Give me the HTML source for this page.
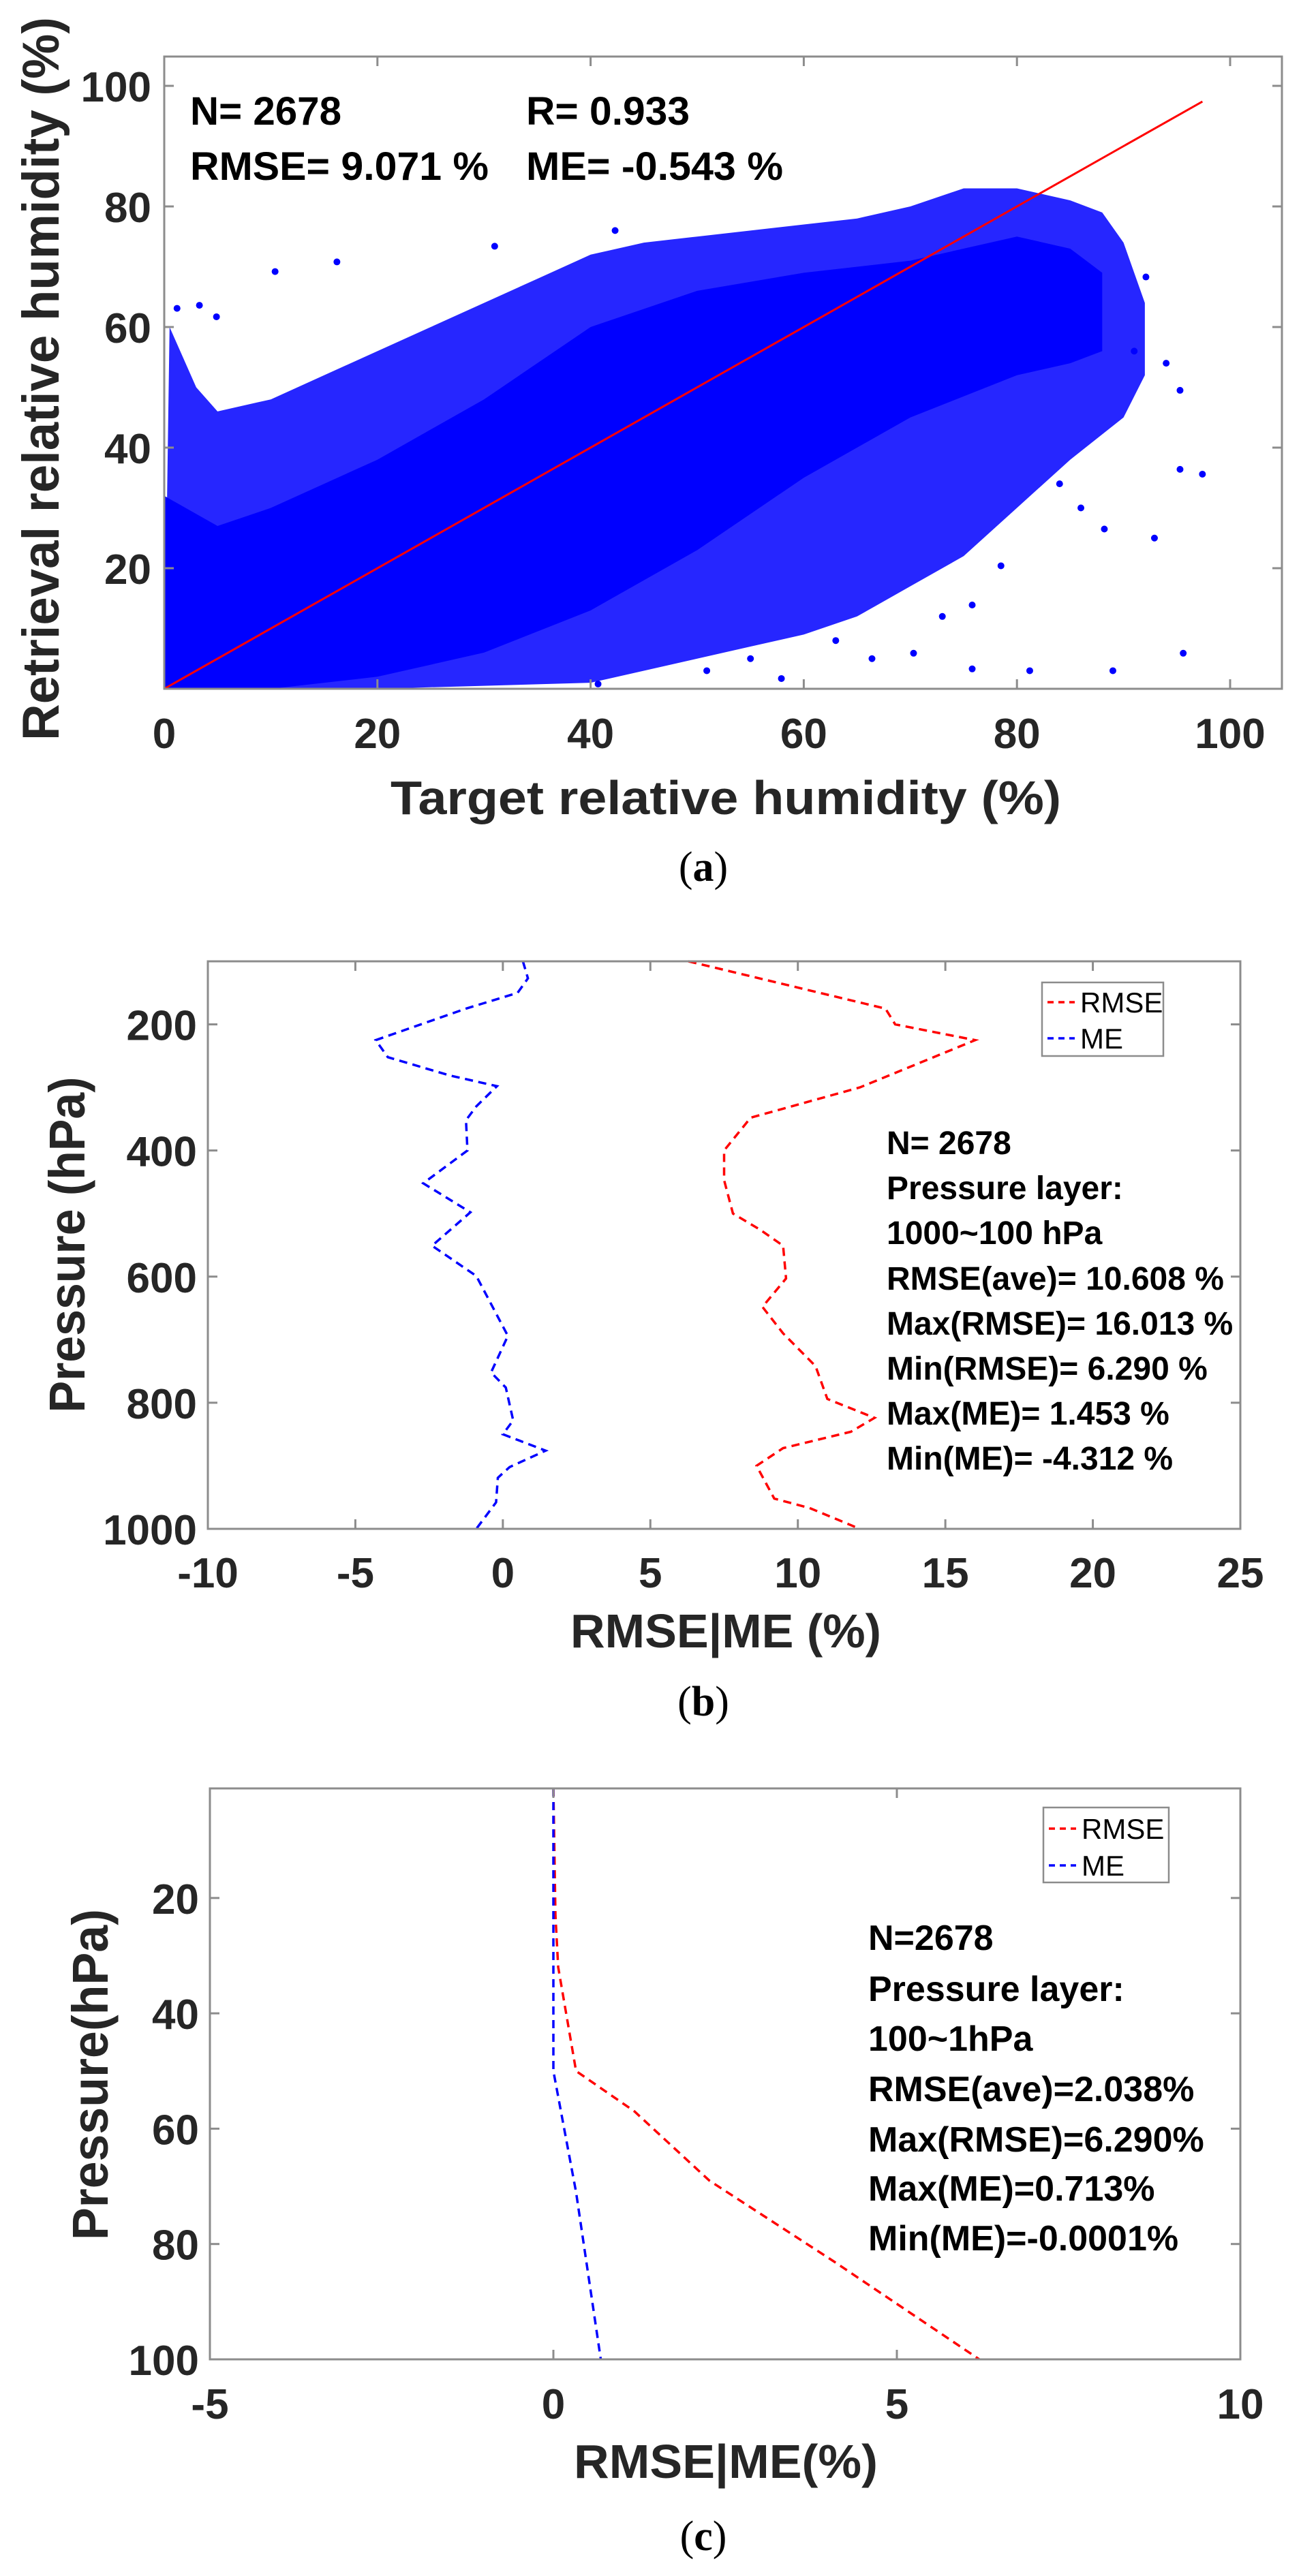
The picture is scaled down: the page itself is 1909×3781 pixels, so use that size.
<!DOCTYPE html>
<html><head><meta charset="utf-8"><style>
html,body{margin:0;padding:0;background:#fff;}
svg{display:block;font-family:"Liberation Sans",Arial,sans-serif;}
.tk{font-size:62px;font-weight:bold;fill:#262626;}
.ann{font-weight:bold;fill:#000;}
.cap{font-family:"Liberation Serif",serif;font-size:62px;fill:#000;}
</style></head><body>
<svg id="fig" width="1909" height="3781" viewBox="0 0 1909 3781" xmlns="http://www.w3.org/2000/svg">
<g id="ga"></g>
<g id="gb"></g>
<g id="gc"></g>
</svg>
<script>
// ---------- Panel (a) data ----------
const aXTicks = [0, 20, 40, 60, 80, 100];
const aYTicks = [20, 40, 60, 80, 100];
const aOuterUpperX = [0, 0.5, 3, 5, 10, 15, 20, 25, 30, 35, 40, 45, 50, 55, 60, 65, 70, 75, 80, 85, 88, 90, 92];
const aOuterUpperY = [0, 60, 50, 46, 48, 52, 56, 60, 64, 68, 72, 74, 75, 76, 77, 78, 80, 83, 83, 81, 79, 74, 64];
const aOuterLowerX = [92, 90, 85, 80, 75, 70, 65, 60, 55, 50, 45, 40, 30, 20, 0];
const aOuterLowerY = [52, 45, 38, 30, 22, 17, 12, 9, 7, 5, 3, 1, 0.5, 0, 0];
const aInnerUpperX = [0, 5, 10, 20, 30, 40, 50, 60, 70, 80, 85, 88];
const aInnerUpperY = [32, 27, 30, 38, 48, 60, 66, 69, 71, 75, 73, 69];
const aInnerLowerX = [88, 85, 80, 70, 60, 50, 40, 30, 20, 10, 0];
const aInnerLowerY = [56, 54, 52, 45, 35, 23, 13, 6, 2, 0, 0];
const aOutX = [97.4, 95.3, 92.9, 88.2, 95.6, 89, 81.2, 75.8, 70.3, 66.4, 57.9, 50.9, 40.7, 10.4, 16.2, 3.3, 1.2, 4.9, 31, 42.3, 95.3, 92.1, 78.5, 75.8, 94, 91, 86, 84, 73, 63, 55];
const aOutY = [35.6, 36.4, 25, 26.5, 5.9, 3, 3, 3.3, 5.9, 5, 1.7, 3, 0.8, 69.2, 70.8, 63.6, 63.1, 61.7, 73.4, 76, 49.5, 68.3, 20.4, 13.9, 54, 56, 30, 34, 12, 8, 5];
const aFitLine = [0, 97.4];
// ---------- Panel (b) data ----------
const bXTicks = [-10, -5, 0, 5, 10, 15, 20, 25];
const bYTicks = [200, 400, 600, 800, 1000];
const bRmseP = [100, 175, 200, 225, 300, 348, 400, 447, 500, 525, 551, 603, 648, 690, 742, 794, 824, 846, 872, 900, 952, 967, 1000];
const bRmseV = [6.29, 12.97, 13.3, 16.01, 12.1, 8.4, 7.5, 7.5, 7.8, 8.7, 9.5, 9.6, 8.8, 9.5, 10.6, 11.0, 12.6, 11.8, 9.5, 8.6, 9.2, 10.4, 12.1];
const bMeP = [100, 127, 150, 175, 225, 252, 281, 298, 330, 352, 400, 452, 498, 551, 599, 694, 752, 776, 828, 850, 876, 902, 919, 958, 1000];
const bMeV = [0.68, 0.85, 0.5, -1.25, -4.31, -3.9, -1.8, -0.2, -0.9, -1.25, -1.2, -2.7, -1.1, -2.4, -0.9, 0.17, -0.4, 0.1, 0.35, 0, 1.45, 0.23, -0.17, -0.23, -0.9];
const bNotes = ["N= 2678", "Pressure layer:", "1000~100 hPa", "RMSE(ave)= 10.608 %", "Max(RMSE)= 16.013 %", "Min(RMSE)= 6.290 %", "Max(ME)= 1.453 %", "Min(ME)= -4.312 %"];
// ---------- Panel (c) data ----------
const cXTicks = [-5, 0, 5, 10];
const cYTicks = [20, 40, 60, 80, 100];
const cRmseP = [1, 23, 32, 50, 57, 69, 83, 100];
const cRmseV = [0, 0.03, 0.07, 0.33, 1.18, 2.27, 4.08, 6.2];
const cMeP = [1, 50, 71, 100];
const cMeV = [0, 0, 0.33, 0.69];
const cNotes = ["N=2678", "Pressure layer:", "100~1hPa", "RMSE(ave)=2.038%", "Max(RMSE)=6.290%", "Max(ME)=0.713%", "Min(ME)=-0.0001%"];

const NS = "http://www.w3.org/2000/svg";
function mk(parent, tag, attrs, text) {
  const e = document.createElementNS(NS, tag);
  for (const k in attrs) e.setAttribute(k, attrs[k]);
  if (text !== undefined) e.textContent = text;
  parent.appendChild(e);
  return e;
}
function lin(d0, d1, r0, r1) { return v => r0 + (v - d0) / (d1 - d0) * (r1 - r0); }

// ================= Panel (a) =================
(function () {
  const g = document.getElementById('ga');
  const L = 241, R = 1881, T = 83, B = 1011;
  const sx = lin(0, 100, 241, 1805), sy = lin(0, 100, 1011, 126);
  const clip = mk(g, 'clipPath', { id: 'clipa' });
  mk(clip, 'rect', { x: L, y: T, width: R - L, height: B - T });
  const pts = (xs, ys) => xs.map((x, i) => sx(x) + ',' + sy(ys[i]));
  const outer = mk(g, 'polygon', { points: pts(aOuterUpperX, aOuterUpperY).concat(pts(aOuterLowerX, aOuterLowerY)).join(' '), fill: '#0000ff', 'fill-opacity': '0.85', 'clip-path': 'url(#clipa)' });
  
  
  const inner = mk(g, 'polygon', { points: pts(aInnerUpperX, aInnerUpperY).concat(pts(aInnerLowerX, aInnerLowerY)).join(' '), fill: '#0000ff', 'clip-path': 'url(#clipa)' });
  
  
  aOutX.forEach((x, i) => {
    const c = mk(g, 'circle', { cx: sx(x), cy: sy(aOutY[i]), r: 5, fill: '#0000ff' });
    
    
  });
  const fl = mk(g, 'line', { x1: sx(aFitLine[0]), y1: sy(aFitLine[0]), x2: sx(aFitLine[1]), y2: sy(aFitLine[1]), stroke: '#ff0000', 'stroke-width': 3 });
  
  
  const box = mk(g, 'rect', { x: L, y: T, width: R - L, height: B - T, fill: 'none', stroke: '#8c8c8c', 'stroke-width': 3 });
  
  
  aXTicks.forEach(v => {
    mk(g, 'line', { x1: sx(v), y1: B, x2: sx(v), y2: B - 14, stroke: '#8c8c8c', 'stroke-width': 3 });
    mk(g, 'line', { x1: sx(v), y1: T, x2: sx(v), y2: T + 14, stroke: '#8c8c8c', 'stroke-width': 3 });
    const t = mk(g, 'text', { x: sx(v), y: 1098, 'text-anchor': 'middle', class: 'tk' }, String(v));
    
    
  });
  aYTicks.forEach(v => {
    mk(g, 'line', { x1: L, y1: sy(v), x2: L + 14, y2: sy(v), stroke: '#8c8c8c', 'stroke-width': 3 });
    mk(g, 'line', { x1: R, y1: sy(v), x2: R - 14, y2: sy(v), stroke: '#8c8c8c', 'stroke-width': 3 });
    const t = mk(g, 'text', { x: 222, y: sy(v) + 23, 'text-anchor': 'end', class: 'tk' }, String(v));
    
    
  });
  const xl = mk(g, 'text', { x: 1065, y: 1195, 'text-anchor': 'middle', 'font-size': 70, 'font-weight': 'bold', fill: '#262626', textLength: 984, lengthAdjust: 'spacingAndGlyphs' }, 'Target relative humidity (%)');
  
  
  const yl = mk(g, 'text', { x: 0, y: 0, transform: 'translate(86,556) rotate(-90)', 'text-anchor': 'middle', 'font-size': 76, 'font-weight': 'bold', fill: '#262626', textLength: 1062, lengthAdjust: 'spacingAndGlyphs' }, 'Retrieval relative humidity (%)');
  
  
  [['N= 2678', 279, 183, 222], ['R= 0.933', 772, 183, 240], ['RMSE= 9.071 %', 279, 264, 438], ['ME= -0.543 %', 772, 264, 377]].forEach(a => {
    const t = mk(g, 'text', { x: a[1], y: a[2], class: 'ann', 'font-size': 58, textLength: a[3], lengthAdjust: 'spacingAndGlyphs' }, a[0]);
    
    
  });
  const cp = mk(g, 'text', { x: 1032, y: 1293, 'text-anchor': 'middle', class: 'cap' });
  
  
  cp.innerHTML = '(<tspan font-weight="bold">a</tspan>)';
})();

// ================= Profile panels =================
function profile(gid, o) {
  const g = document.getElementById(gid);
  const { L, R, T, B } = o;
  const sx = lin(o.xd[0], o.xd[1], L, R), sy = lin(o.yd[0], o.yd[1], T, B);
  const series = [[o.rv, o.rp, '#ff0000', 'rmse-line'], [o.mv, o.mp, '#0000ff', 'me-line']];
  series.forEach(s => {
    const pl = mk(g, 'polyline', { points: s[0].map((v, i) => sx(v) + ',' + sy(s[1][i])).join(' '), fill: 'none', stroke: s[2], 'stroke-width': 3.5, 'stroke-dasharray': '12 8' });
    
    
  });
  const box = mk(g, 'rect', { x: L, y: T, width: R - L, height: B - T, fill: 'none', stroke: '#8c8c8c', 'stroke-width': 3 });
  
  
  o.xt.forEach(v => {
    mk(g, 'line', { x1: sx(v), y1: B, x2: sx(v), y2: B - 14, stroke: '#8c8c8c', 'stroke-width': 3 });
    mk(g, 'line', { x1: sx(v), y1: T, x2: sx(v), y2: T + 14, stroke: '#8c8c8c', 'stroke-width': 3 });
    const t = mk(g, 'text', { x: sx(v), y: o.xly, 'text-anchor': 'middle', class: 'tk' }, String(v));
    
    
  });
  o.yt.forEach(v => {
    mk(g, 'line', { x1: L, y1: sy(v), x2: L + 14, y2: sy(v), stroke: '#8c8c8c', 'stroke-width': 3 });
    mk(g, 'line', { x1: R, y1: sy(v), x2: R - 14, y2: sy(v), stroke: '#8c8c8c', 'stroke-width': 3 });
    const t = mk(g, 'text', { x: L - 16, y: sy(v) + 23, 'text-anchor': 'end', class: 'tk' }, String(v));
    
    
  });
  const lg = mk(g, 'g', {});
  
  
  mk(lg, 'rect', { x: o.lg[0], y: o.lg[1], width: o.lg[2], height: o.lg[3], fill: '#fff', stroke: '#8c8c8c', 'stroke-width': 2.5 });
  [['RMSE', '#ff0000', o.lgy[0]], ['ME', '#0000ff', o.lgy[1]]].forEach(e => {
    const le = mk(lg, 'g', {});
    
    
    mk(le, 'line', { x1: o.lg[0] + 8, y1: e[2], x2: o.lg[0] + 48, y2: e[2], stroke: e[1], 'stroke-width': 3.5, 'stroke-dasharray': '9 7' });
    mk(le, 'text', { x: o.lg[0] + 56, y: e[2] + 15, 'font-size': 42, fill: '#000' }, e[0]);
  });
  o.notes.forEach((n, i) => {
    const t = mk(g, 'text', { x: o.nx, y: o.ny[i], class: 'ann', 'font-size': o.nfs }, n);
    
    
  });
  const xl = mk(g, 'text', { x: 1065, y: o.xty, 'text-anchor': 'middle', 'font-size': 70, 'font-weight': 'bold', fill: '#262626', textLength: o.xtl, lengthAdjust: 'spacingAndGlyphs' }, o.xtitle);
  
  
  const yl = mk(g, 'text', { x: 0, y: 0, transform: 'translate(' + o.ytx + ',' + o.ytc + ') rotate(-90)', 'text-anchor': 'middle', 'font-size': 74, 'font-weight': 'bold', fill: '#262626', textLength: o.ytl, lengthAdjust: 'spacingAndGlyphs' }, o.ytitle);
  
  
  const cp = mk(g, 'text', { x: 1032, y: o.capy, 'text-anchor': 'middle', class: 'cap' });
  
  
  cp.innerHTML = '(<tspan font-weight="bold">' + o.cap + '</tspan>)';
}
profile('gb', {
  L: 305, R: 1820, T: 1411, B: 2244, xd: [-10, 25], yd: [100, 1000],
  rv: bRmseV, rp: bRmseP, mv: bMeV, mp: bMeP, xt: bXTicks, yt: bYTicks, xly: 2330,
  lg: [1529, 1442, 178, 108], lgy: [1471, 1524],
  notes: bNotes, nx: 1301, ny: [1694, 1760, 1826, 1893, 1959, 2025, 2091, 2157], nfs: 48,
  xtitle: 'RMSE|ME (%)', xty: 2418, xtl: 456, ytitle: 'Pressure (hPa)', ytx: 124, ytc: 1827, ytl: 493,
  cap: 'b', capy: 2518
});
profile('gc', {
  L: 308, R: 1820, T: 2625, B: 3463, xd: [-5, 10], yd: [1, 100],
  rv: cRmseV, rp: cRmseP, mv: cMeV, mp: cMeP, xt: cXTicks, yt: cYTicks, xly: 3550,
  lg: [1531, 2653, 184, 110], lgy: [2684, 2738],
  notes: cNotes, nx: 1274, ny: [2862, 2937, 3010, 3084, 3158, 3230, 3303], nfs: 52,
  xtitle: 'RMSE|ME(%)', xty: 3637, xtl: 446, ytitle: 'Pressure(hPa)', ytx: 158, ytc: 3045, ytl: 486,
  cap: 'c', capy: 3743
});
</script>
</body></html>
